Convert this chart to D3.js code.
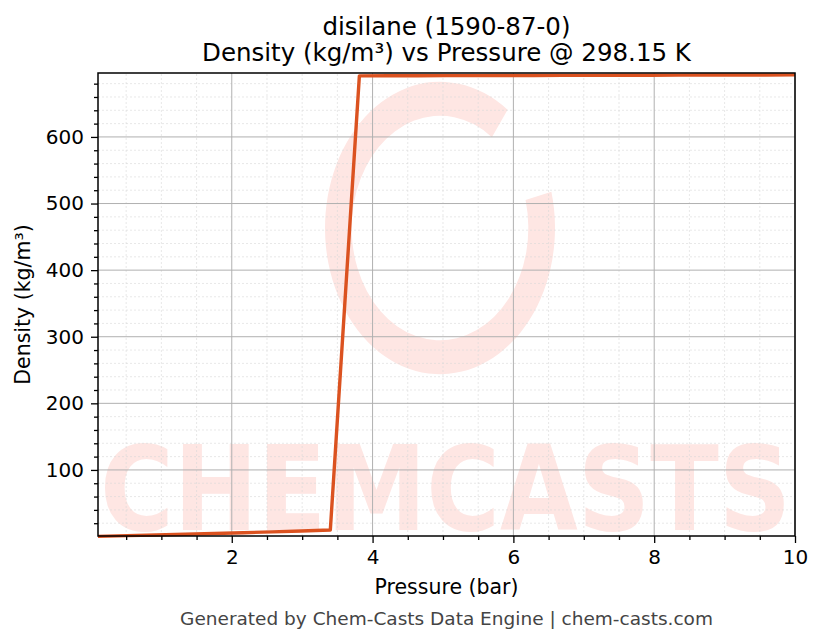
<!DOCTYPE html>
<html>
<head>
<meta charset="utf-8">
<script src="https://cdn.jsdelivr.net/npm/d3@7"></script>
<style>
  body { margin: 0; background: #fff; }
  svg text { font-family: "DejaVu Sans", sans-serif; }
</style>
</head>
<body>
<svg id="vis1"></svg>
<script>
// pressure samples (bar) and density (kg/m3)
var pressures = [0.1, 0.5125, 0.925, 1.3375, 1.75, 2.1625, 2.575, 2.9875, 3.4,
  3.8125, 4.225, 4.6375, 5.05, 5.4625, 5.875, 6.2875, 6.7, 7.1125, 7.525,
  7.9375, 8.35, 8.7625, 9.175, 9.5875, 10]
var densities = [0.25, 1.31, 2.39, 3.49, 4.62, 5.78, 6.98, 8.22, 9.9,
  691.7, 691.8, 691.9, 692.0, 692.1, 692.2, 692.3, 692.4, 692.5, 692.6,
  692.7, 692.8, 692.9, 693.0, 693.1, 693.2]
var xTicks = [2, 4, 6, 8, 10]
var yTicks = [100, 200, 300, 400, 500, 600]

var dataset = pressures.map((p, i) => ({ p: p, rho: densities[i] }))

var dimensions = ({
  width: 823,
  height: 644,
  margin: { top: 73, right: 28, bottom: 108, left: 98 }
})

var xAccessor = d => d.p
var yAccessor = d => d.rho

var svg = d3.select("#vis1")
  .attr("width", dimensions.width)
  .attr("height", dimensions.height)

var x0 = dimensions.margin.left
var x1 = dimensions.width - dimensions.margin.right
var y0 = dimensions.height - dimensions.margin.bottom
var y1 = dimensions.margin.top

var xScale = d3.scaleLinear()
  .domain([0.1, 10])
  .range([x0, x1])

var yScale = d3.scaleLinear()
  .domain([0.8, 696])
  .range([y0, y1])

var xMinor = d3.range(0.5, 10.01, 0.5).filter(v => v % 2 != 0)
var yMinor = d3.range(20, 696, 20).filter(v => v % 100 != 0)

// watermark
var wm = svg.append("g").attr("fill", "#fee6e3").attr("stroke", "none")
wm.append("path")
  .attr("d", d3.arc()({ innerRadius: 96, outerRadius: 125, startAngle: 0.42 * Math.PI, endAngle: 2.2 * Math.PI }))
  .attr("transform", "translate(440,228) scale(0.92,1.17)")
wm.append("text")
  .attr("x", x0 + 2)
  .attr("y", 530)
  .attr("textLength", x1 - x0 - 6)
  .attr("lengthAdjust", "spacingAndGlyphs")
  .style("font-size", "118px")
  .style("font-weight", "bold")
  .text("CHEMCASTS")

// grid
var grid = svg.append("g")
grid.selectAll(".xmin").data(xMinor).enter().append("line")
  .attr("x1", d => xScale(d)).attr("x2", d => xScale(d))
  .attr("y1", y0).attr("y2", y1)
  .attr("stroke", "#d8d8d8").attr("stroke-width", 0.6).attr("stroke-dasharray", "2,2")
grid.selectAll(".ymin").data(yMinor).enter().append("line")
  .attr("y1", d => yScale(d)).attr("y2", d => yScale(d))
  .attr("x1", x0).attr("x2", x1)
  .attr("stroke", "#d8d8d8").attr("stroke-width", 0.6).attr("stroke-dasharray", "2,2")
grid.selectAll(".xmaj").data(xTicks).enter().append("line")
  .attr("x1", d => xScale(d)).attr("x2", d => xScale(d))
  .attr("y1", y0).attr("y2", y1)
  .attr("stroke", "#b0b0b0").attr("stroke-width", 1)
grid.selectAll(".ymaj").data(yTicks).enter().append("line")
  .attr("y1", d => yScale(d)).attr("y2", d => yScale(d))
  .attr("x1", x0).attr("x2", x1)
  .attr("stroke", "#b0b0b0").attr("stroke-width", 1)

// line
var line = d3.line()
  .x(d => xScale(xAccessor(d)))
  .y(d => yScale(yAccessor(d)))

svg.append("path")
  .datum(dataset)
  .attr("d", line)
  .attr("fill", "none")
  .attr("stroke", "#db5220")
  .attr("stroke-width", 3.4)
  .attr("stroke-linejoin", "round")

// axes
var xMinorGen = d3.axisBottom().scale(xScale).tickValues(xMinor).tickSize(4).tickFormat("")
svg.append("g").call(xMinorGen).attr("transform", `translate(0,${y0})`)
var xAxisGen = d3.axisBottom().scale(xScale).tickValues(xTicks).tickSize(7).tickPadding(7).tickFormat(d3.format("d"))
var xAxis = svg.append("g")
  .call(xAxisGen)
  .attr("transform", `translate(0,${y0})`)

var yMinorGen = d3.axisLeft().scale(yScale).tickValues(yMinor).tickSize(4).tickFormat("")
svg.append("g").call(yMinorGen).attr("transform", `translate(${x0},0)`)
var yAxisGen = d3.axisLeft().scale(yScale).tickValues(yTicks).tickSize(7).tickPadding(7)
var yAxis = svg.append("g")
  .call(yAxisGen)
  .attr("transform", `translate(${x0},0)`)

svg.selectAll(".domain").remove()
svg.selectAll(".tick text").filter(function () { return this.textContent == "" }).remove()
svg.selectAll(".tick line").attr("stroke", "#000").attr("stroke-width", 1.3)
svg.selectAll(".tick text").style("font-size", "20px").attr("fill", "#000")

// frame
svg.append("rect")
  .attr("x", x0).attr("y", y1)
  .attr("width", x1 - x0).attr("height", y0 - y1)
  .attr("fill", "none").attr("stroke", "#000").attr("stroke-width", 1.5)

// labels
var cx = (x0 + x1) / 2
svg.append("text").attr("x", cx).attr("y", 35).attr("text-anchor", "middle")
  .style("font-size", "24.5px").text("disilane (1590-87-0)")
svg.append("text").attr("x", cx).attr("y", 61).attr("text-anchor", "middle")
  .style("font-size", "24.5px").text("Density (kg/m³) vs Pressure @ 298.15 K")
svg.append("text").attr("x", cx).attr("y", 594).attr("text-anchor", "middle")
  .style("font-size", "20.5px").text("Pressure (bar)")
svg.append("text").attr("transform", `translate(30,${(y0 + y1) / 2}) rotate(-90)`)
  .attr("text-anchor", "middle").style("font-size", "20.5px").text("Density (kg/m³)")
svg.append("text").attr("x", cx).attr("y", 625).attr("text-anchor", "middle")
  .style("font-size", "18.5px").attr("fill", "#444")
  .text("Generated by Chem-Casts Data Engine | chem-casts.com")
</script>
</body>
</html>
